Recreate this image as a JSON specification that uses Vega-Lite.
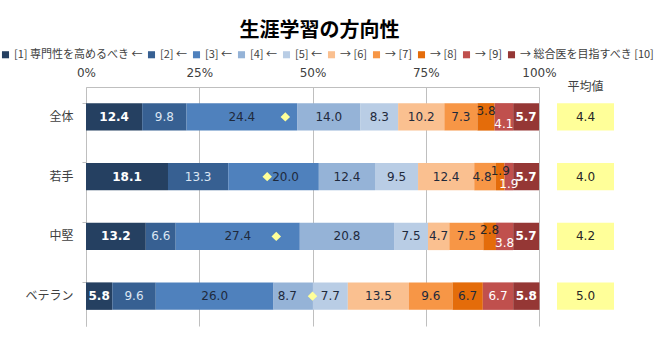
{
  "$schema": "https://vega.github.io/schema/vega-lite/v6.json",
  "background": "white",
  "padding": {"left": 0, "right": 5, "top": 21, "bottom": 5},
  "title": {"text": "生涯学習の方向性", "font": "Noto Sans CJK JP", "fontSize": 20, "fontWeight": "bold", "color": "#000000", "anchor": "middle", "offset": 8, "dx": -8},
  "datasets": {
    "answers": [
      {"group": "全体", "level": 1, "answer": "[1] 専門性を高めるべき ←", "pct": 12.4},
      {"group": "全体", "level": 2, "answer": "[2] ←", "pct": 9.8},
      {"group": "全体", "level": 3, "answer": "[3] ←", "pct": 24.4},
      {"group": "全体", "level": 4, "answer": "[4] ←", "pct": 14.0},
      {"group": "全体", "level": 5, "answer": "[5] ←", "pct": 8.3},
      {"group": "全体", "level": 6, "answer": "→ [6]", "pct": 10.2},
      {"group": "全体", "level": 7, "answer": "→ [7]", "pct": 7.3},
      {"group": "全体", "level": 8, "answer": "→ [8]", "pct": 3.8},
      {"group": "全体", "level": 9, "answer": "→ [9]", "pct": 4.1},
      {"group": "全体", "level": 10, "answer": "→ 総合医を目指すべき [10]", "pct": 5.7},
      {"group": "若手", "level": 1, "answer": "[1] 専門性を高めるべき ←", "pct": 18.1},
      {"group": "若手", "level": 2, "answer": "[2] ←", "pct": 13.3},
      {"group": "若手", "level": 3, "answer": "[3] ←", "pct": 20.0},
      {"group": "若手", "level": 4, "answer": "[4] ←", "pct": 12.4},
      {"group": "若手", "level": 5, "answer": "[5] ←", "pct": 9.5},
      {"group": "若手", "level": 6, "answer": "→ [6]", "pct": 12.4},
      {"group": "若手", "level": 7, "answer": "→ [7]", "pct": 4.8},
      {"group": "若手", "level": 8, "answer": "→ [8]", "pct": 1.9},
      {"group": "若手", "level": 9, "answer": "→ [9]", "pct": 1.9},
      {"group": "若手", "level": 10, "answer": "→ 総合医を目指すべき [10]", "pct": 5.7},
      {"group": "中堅", "level": 1, "answer": "[1] 専門性を高めるべき ←", "pct": 13.2},
      {"group": "中堅", "level": 2, "answer": "[2] ←", "pct": 6.6},
      {"group": "中堅", "level": 3, "answer": "[3] ←", "pct": 27.4},
      {"group": "中堅", "level": 4, "answer": "[4] ←", "pct": 20.8},
      {"group": "中堅", "level": 5, "answer": "[5] ←", "pct": 7.5},
      {"group": "中堅", "level": 6, "answer": "→ [6]", "pct": 4.7},
      {"group": "中堅", "level": 7, "answer": "→ [7]", "pct": 7.5},
      {"group": "中堅", "level": 8, "answer": "→ [8]", "pct": 2.8},
      {"group": "中堅", "level": 9, "answer": "→ [9]", "pct": 3.8},
      {"group": "中堅", "level": 10, "answer": "→ 総合医を目指すべき [10]", "pct": 5.7},
      {"group": "ベテラン", "level": 1, "answer": "[1] 専門性を高めるべき ←", "pct": 5.8},
      {"group": "ベテラン", "level": 2, "answer": "[2] ←", "pct": 9.6},
      {"group": "ベテラン", "level": 3, "answer": "[3] ←", "pct": 26.0},
      {"group": "ベテラン", "level": 4, "answer": "[4] ←", "pct": 8.7},
      {"group": "ベテラン", "level": 5, "answer": "[5] ←", "pct": 7.7},
      {"group": "ベテラン", "level": 6, "answer": "→ [6]", "pct": 13.5},
      {"group": "ベテラン", "level": 7, "answer": "→ [7]", "pct": 9.6},
      {"group": "ベテラン", "level": 8, "answer": "→ [8]", "pct": 6.7},
      {"group": "ベテラン", "level": 9, "answer": "→ [9]", "pct": 6.7},
      {"group": "ベテラン", "level": 10, "answer": "→ 総合医を目指すべき [10]", "pct": 5.8}
    ],
    "means": [
      {"group": "全体", "mean": 4.4},
      {"group": "若手", "mean": 4.0},
      {"group": "中堅", "mean": 4.2},
      {"group": "ベテラン", "mean": 5.0}
    ]
  },
  "hconcat": [
    {
      "width": 453,
      "height": 239,
      "layer": [
        {
          "data": {"name": "answers"},
          "encoding": {
            "y": {
              "field": "group", "type": "nominal", "sort": ["全体", "若手", "中堅", "ベテラン"],
              "scale": {"paddingInner": 0.54, "paddingOuter": 0.27},
              "axis": {"title": null, "labelFont": "Noto Sans CJK JP", "labelFontSize": 12, "labelColor": "#404040", "domainColor": "#BFBFBF", "tickColor": "#BFBFBF", "tickSize": 4, "bandPosition": 0, "labelPadding": 9, "minExtent": 81, "maxExtent": 81}
            }
          },
          "layer": [
            {
              "mark": {"type": "bar"},
              "encoding": {
                "x": {
                  "field": "pct", "type": "quantitative", "stack": "zero",
                  "scale": {"domain": [0, 100], "nice": false},
                  "axis": {"orient": "top", "title": null, "values": [0, 25, 50, 75, 100], "labelExpr": "datum.value + '%'", "labelFlush": false, "grid": true, "gridColor": "#BFBFBF", "domainColor": "#BFBFBF", "ticks": false, "labelFont": "DejaVu Sans", "labelFontSize": 12, "labelColor": "#404040", "labelPadding": 8}
                },
                "color": {
                  "field": "answer", "type": "nominal",
                  "scale": {
                    "domain": ["[1] 専門性を高めるべき ←", "[2] ←", "[3] ←", "[4] ←", "[5] ←", "→ [6]", "→ [7]", "→ [8]", "→ [9]", "→ 総合医を目指すべき [10]"],
                    "range": ["#254061", "#376092", "#4F81BD", "#95B3D7", "#B9CDE5", "#FAC090", "#F79646", "#E46C0A", "#C0504D", "#953735"]
                  },
                  "legend": {"orient": "none", "legendX": -86, "legendY": -38, "direction": "horizontal", "columns": 10, "title": null, "symbolType": "square", "symbolSize": 50, "symbolStrokeWidth": 0, "labelFont": "Noto Sans CJK JP", "labelFontSize": 11, "labelColor": "#404040", "columnPadding": 3, "labelOffset": 3, "labelLimit": 300}
                },
                "order": {"field": "level", "type": "quantitative"}
              }
            },
            {
              "transform": [
                {"stack": "pct", "groupby": ["group"], "sort": [{"field": "level", "order": "ascending"}], "as": ["p0", "p1"]},
                {"fold": ["p0", "p1"], "as": ["edge", "pos"]}
              ],
              "encoding": {
                "x": {"aggregate": "mean", "field": "pos", "type": "quantitative", "title": null},
                "text": {"field": "pct", "type": "quantitative", "format": ".1f"},
                "detail": {"field": "level", "type": "quantitative"}
              },
              "layer": [
                {"transform": [{"filter": "datum.level == 1 || datum.level == 10"}], "mark": {"type": "text", "font": "DejaVu Sans", "fontSize": 12, "fontWeight": "bold", "color": "#FFFFFF"}},
                {"transform": [{"filter": "datum.level == 2"}], "mark": {"type": "text", "font": "DejaVu Sans", "fontSize": 12, "color": "#DCE6F2"}},
                {"transform": [{"filter": "datum.level == 9 && datum.pct >= 5"}], "mark": {"type": "text", "font": "DejaVu Sans", "fontSize": 12, "color": "#FFFFFF"}},
                {"transform": [{"filter": "datum.level == 9 && datum.pct < 5"}], "mark": {"type": "text", "font": "DejaVu Sans", "fontSize": 12, "color": "#FFFFFF", "dy": 7}},
                {"transform": [{"filter": "datum.level == 8 && datum.pct < 5"}], "mark": {"type": "text", "font": "DejaVu Sans", "fontSize": 12, "color": "#262626", "dy": -6}},
                {"transform": [{"filter": "datum.level == 3 && datum.group == '若手'"}], "mark": {"type": "text", "font": "DejaVu Sans", "fontSize": 12, "color": "#1F2A3C", "dx": 12}},
                {"transform": [{"filter": "datum.level == 4 && datum.group == 'ベテラン'"}], "mark": {"type": "text", "font": "DejaVu Sans", "fontSize": 12, "color": "#1F2A3C", "dx": -6}},
                {"transform": [{"filter": "datum.level == 7 && datum.group == '若手'"}], "mark": {"type": "text", "font": "DejaVu Sans", "fontSize": 12, "color": "#1F2A3C", "dx": -3}},
                {"transform": [{"filter": "((datum.level >= 3 && datum.level <= 7) || (datum.level == 8 && datum.pct >= 5)) && !(datum.level == 3 && datum.group == '若手') && !(datum.level == 4 && datum.group == 'ベテラン') && !(datum.level == 7 && datum.group == '若手')"}], "mark": {"type": "text", "font": "DejaVu Sans", "fontSize": 12, "color": "#1F2A3C"}}
              ]
            }
          ]
        },
        {
          "data": {"name": "means"},
          "mark": {"type": "point", "shape": "diamond", "filled": true, "color": "#FFFF99", "opacity": 1, "size": 90},
          "encoding": {
            "y": {"field": "group", "type": "nominal", "sort": ["全体", "若手", "中堅", "ベテラン"]},
            "x": {"field": "mean", "type": "quantitative", "scale": {"domain": [0, 10], "nice": false}, "axis": null}
          }
        }
      ],
      "resolve": {"scale": {"x": "independent"}}
    },
    {
      "data": {"name": "means"},
      "width": 57,
      "height": 239,
      "encoding": {
        "y": {"field": "group", "type": "nominal", "sort": ["全体", "若手", "中堅", "ベテラン"], "axis": null},
        "x": {"datum": "平均値", "type": "nominal", "scale": {"paddingInner": 0, "paddingOuter": 0},
          "axis": {"orient": "top", "title": null, "domain": false, "ticks": false, "grid": false, "labelAngle": 0, "labelFont": "Noto Sans CJK JP", "labelFontSize": 12, "labelColor": "#404040", "labelPadding": -6}}
      },
      "layer": [
        {"mark": {"type": "rect", "color": "#FFFF99"}},
        {"mark": {"type": "text", "font": "DejaVu Sans", "fontSize": 12, "color": "#262626"}, "encoding": {"text": {"field": "mean", "type": "quantitative", "format": ".1f"}}}
      ]
    }
  ],
  "spacing": 0,
  "resolve": {"scale": {"x": "independent", "y": "shared"}},
  "config": {"view": {"stroke": null}, "font": "Noto Sans CJK JP"}
}
